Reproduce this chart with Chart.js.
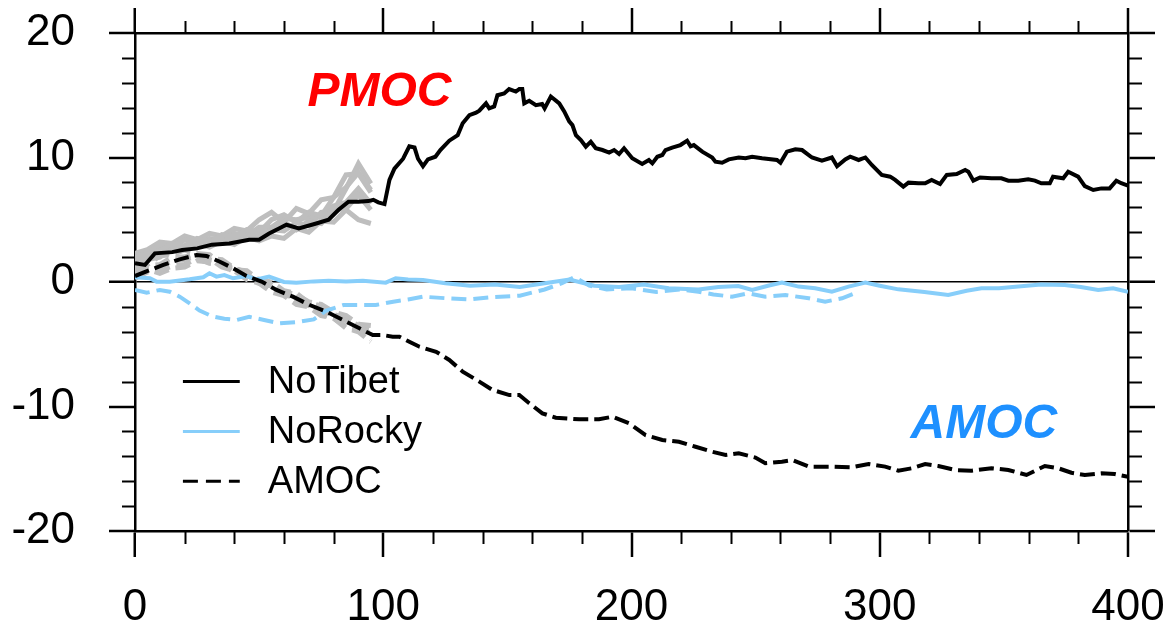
<!DOCTYPE html>
<html>
<head>
<meta charset="utf-8">
<script src="https://cdn.jsdelivr.net/npm/chart.js@4.4.1/dist/chart.umd.min.js"></script>
<style>
  html, body { margin: 0; padding: 0; background: #ffffff; }
  #wrap { position: relative; width: 1171px; height: 632px; }
</style>
</head>
<body>
<div id="wrap"><canvas id="mocChart" width="1171" height="632"></canvas></div>
<script>
// NoTibet PMOC (black solid), [year, Sv]
const tibetPmoc = [
  [0,1.5],[4,1.37],[8,2.3],[15,2.4],[19,2.57],[25,2.7],[31,3.0],[38,3.1],[46,3.4],[50,3.4],
  [54,3.9],[58,4.3],[61,4.6],[66,4.3],[73,4.7],[78,5.0],[82,5.8],[86,6.45],[90,6.45],[94,6.5],
  [96,6.6],[98,6.4],[100.5,6.26],[102.5,8.2],[104.5,9.1],[108,9.9],[110.5,10.9],[112.6,10.8],[114,9.9],[116,9.3],
  [118,9.85],[121,10.06],[123,10.6],[126.6,11.35],[130,11.8],[132,12.75],[134.7,13.4],[137.4,13.6],[138.7,13.76],[141.4,14.35],
  [142.7,13.95],[144.7,14.1],[146,15.0],[148.7,15.15],[150.7,15.5],[153.4,15.3],[154.8,15.5],[156,15.5],[156.8,14.35],[158.8,14.56],
  [161.5,14.2],[164,14.3],[165,13.95],[167.5,14.9],[170.9,14.35],[172.9,13.7],[174.9,12.9],[176.2,12.6],[177.6,11.8],[179.6,11.4],
  [181.6,10.87],[183.6,11.27],[185.6,10.74],[188.3,10.6],[191,10.4],[193,10.6],[195,10.28],[197,10.74],[200.3,9.94],[204.3,9.48],
  [207,9.8],[208.4,9.53],[210.4,10.06],[212.4,10.2],[213.7,10.6],[216.4,10.8],[219.7,11.0],[222.4,11.35],[223.8,10.9],[225.1,11.0],
  [228.5,10.47],[232.5,10.0],[233.8,9.66],[236.5,9.58],[239.2,9.85],[243.2,10.0],[245.9,9.94],[248.6,10.06],[252.6,9.94],[258.6,9.8],
  [260,9.58],[262.6,10.47],[266,10.66],[268.7,10.6],[272.7,10.0],[276.7,9.74],[280.7,10.0],[282.8,9.3],[286.1,9.85],[288.1,10.06],
  [291.5,9.8],[294.2,10.0],[296.8,9.4],[300.8,8.6],[304.2,8.46],[306.2,8.2],[309.5,7.66],[311.6,7.98],[315.6,7.93],[318.3,7.93],
  [320.9,8.2],[324.3,7.87],[327,8.6],[331,8.67],[334.4,9.0],[335.7,8.86],[337.7,8.14],[340.4,8.4],[345,8.33],[349,8.33],
  [351.8,8.14],[355.8,8.14],[359.8,8.25],[362.5,8.14],[365.1,7.93],[368.5,7.93],[369.8,8.46],[373.9,8.33],[375.9,8.86],[379.9,8.46],
  [382.6,7.7],[386,7.39],[389.3,7.52],[392.6,7.52],[395.3,8.14],[397.3,7.93],[400,7.75]
];

// NoTibet AMOC (black dashed)
const tibetAmoc = [
  [0,0.48],[6,0.96],[11.4,1.37],[18,1.82],[24.8,2.17],[28.8,2.09],[34.2,1.63],[39.5,1.1],[44.9,0.48],[51,0.03],
  [57,-0.64],[63.6,-1.18],[70.4,-1.85],[77,-2.38],[83.7,-3.05],[90.4,-3.72],[95.8,-4.26],[99.8,-4.26],[103.8,-4.39],[106.5,-4.39],
  [110.5,-4.8],[114.6,-5.2],[121.3,-5.6],[126.6,-6.26],[132,-7.2],[138.7,-8.0],[144,-8.67],[150.8,-9.08],[154.8,-9.08],[158.8,-9.74],
  [164.1,-10.55],[169.5,-10.9],[178.9,-11.03],[186.9,-11.03],[192.3,-10.82],[199,-11.35],[205.7,-12.3],[212.4,-12.69],[219.1,-12.83],[225.8,-13.23],
  [232.5,-13.63],[237.9,-13.9],[243.2,-13.76],[249.9,-14.1],[253.9,-14.56],[260.6,-14.43],[264.7,-14.3],[271.4,-14.83],[280.7,-14.83],[288.8,-14.88],
  [295.5,-14.62],[302.2,-14.83],[307.5,-15.16],[312.9,-14.96],[318.3,-14.62],[323.6,-14.78],[330.3,-15.1],[337,-15.16],[345,-14.96],[351.8,-15.1],
  [359.1,-15.5],[366.5,-14.78],[371.9,-14.96],[377.2,-15.32],[382.6,-15.5],[389.3,-15.37],[394.6,-15.42],[400,-15.64]
];

// NoRocky PMOC (light blue solid)
const rockyPmoc = [
  [0,0.38],[6,0.3],[8.7,0.03],[14,0.03],[22,0.22],[27.5,0.38],[30,0.7],[32.8,0.43],[36,0.56],[39.5,0.3],
  [45,0.48],[49,0.21],[54,0.43],[60,0.0],[65,-0.05],[72,0.05],[78,0.1],[85,0.05],[91.8,0.1],[101,-0.05],
  [105,0.3],[110,0.2],[116,0.16],[125,-0.1],[135,-0.3],[145,-0.2],[155,-0.4],[165,-0.1],[175,0.2],[185,-0.3],
  [195,-0.4],[205,-0.2],[215,-0.5],[227,-0.6],[235,-0.4],[243,-0.32],[248.6,-0.64],[255,-0.3],[260.6,-0.05],[267.3,-0.37],
  [274,-0.5],[280.7,-0.78],[287.4,-0.37],[294.2,-0.05],[300,-0.3],[307.5,-0.59],[318,-0.8],[327.6,-1.04],[335,-0.7],[341,-0.51],
  [348,-0.5],[355.8,-0.37],[365,-0.2],[374.5,-0.24],[381,-0.4],[388,-0.64],[394,-0.5],[400,-0.78]
];

// NoRocky AMOC (light blue dashed)
const rockyAmoc = [
  [0,-0.64],[4.7,-0.86],[10,-0.64],[14,-0.78],[18,-1.18],[22,-1.71],[26,-2.3],[31,-2.75],[36,-2.95],[41,-3.05],
  [46,-2.8],[52,-3.05],[58.3,-3.32],[66,-3.2],[72,-3.0],[77,-2.3],[84,-1.85],[90,-1.85],[97,-1.85],[104,-1.58],
  [110,-1.4],[116,-1.18],[125,-1.3],[135,-1.4],[145,-1.2],[155,-1.1],[165,-0.6],[172,-0.1],[177,0.4],[183,-0.3],
  [190,-0.6],[200,-0.5],[210,-0.8],[220,-0.6],[227,-0.78],[233,-1.0],[240.5,-1.18],[247,-0.9],[253.9,-1.18],[262,-1.04],
  [271.4,-1.31],[278,-1.58],[284.8,-1.31],[290,-0.9]
];

// grey ensemble members, first century only
const ensembleYears = [0,5,10,15,20,25,30,35,40,45,50,55,60,65,70,75,80,85,90,95];
const ensemblePmoc = [
  [1.6,2.4,2.5,3.1,2.9,3.5,3.2,3.8,3.6,4.2,4.0,5.0,5.4,4.8,5.6,5.3,6.8,7.6,8.8,7.4],
  [2.1,2.3,3.0,2.9,3.4,3.1,3.4,3.1,3.7,3.5,4.1,4.0,4.8,4.2,4.9,4.7,5.8,5.9,7.0,5.8],
  [1.2,2.0,2.2,2.8,2.7,3.3,3.0,3.6,3.3,3.9,3.7,4.2,4.1,4.8,4.5,5.6,5.7,7.5,9.5,7.9],
  [2.3,2.6,3.2,3.1,3.7,3.4,3.9,3.7,4.3,4.1,5.0,5.6,4.8,5.9,5.5,6.6,6.8,8.6,8.7,7.2],
  [0.9,1.8,2.0,2.7,2.6,3.1,2.8,3.3,3.0,3.6,3.3,3.7,3.5,4.3,4.0,4.9,4.8,5.8,5.0,4.7],
  [1.9,2.2,2.9,2.8,3.4,3.3,3.5,3.4,3.9,3.7,4.4,4.4,5.1,5.0,5.2,5.2,6.1,6.4,7.5,6.3]
];
const ensembleAmoc = [
  [1.1,1.4,2.1,2.2,2.6,2.1,1.9,1.2,0.9,0.2,-0.1,-0.8,-1.1,-1.8,-2.0,-2.7,-2.9,-3.6,-3.8,-4.6],
  [0.6,1.1,1.2,1.7,1.8,2.1,1.8,1.6,0.9,0.6,-0.1,-0.3,-1.0,-1.3,-1.9,-2.1,-2.8,-3.1,-3.8,-4.1],
  [0.3,0.8,0.9,1.3,1.4,1.9,1.5,1.4,0.8,0.6,0.0,-0.2,-0.8,-1.0,-1.6,-1.8,-2.4,-2.7,-3.4,-3.5],
  [1.4,1.7,2.3,2.3,2.6,2.3,2.2,1.5,1.2,0.5,0.2,-0.6,-0.9,-1.6,-1.9,-2.6,-2.9,-3.7,-4.0,-4.8],
  [0.8,1.3,1.4,2.0,2.0,2.3,1.9,1.8,1.1,0.8,0.1,-0.2,-0.9,-1.2,-1.8,-2.0,-2.7,-2.9,-3.5,-3.8],
  [0.4,1.0,0.7,1.1,1.2,1.7,1.6,1.6,1.0,0.9,0.2,0.0,-0.7,-0.9,-1.7,-1.9,-2.6,-2.9,-3.6,-3.9]
];

const xTicks = [0, 100, 200, 300, 400];
const yTicks = [-20, -10, 0, 10, 20];
const legendLabels = ["NoTibet", "NoRocky", "AMOC"];
const basinLabels = ["PMOC", "AMOC"];

const BLACK = "#000000";
const SKY = "#87cefa";
const GREY = "#bebebe";
const FONT = "\"Liberation Sans\", Arial, Helvetica, sans-serif";

const toPoints = (pairs) => pairs.map(([x, y]) => ({ x, y }));
const runPoints = (values) => values.map((y, i) => ({ x: ensembleYears[i], y }));

const lineSet = (label, data, color, width, dash, order) => ({
  label, data, borderColor: color, borderWidth: width, borderDash: dash,
  pointRadius: 0, tension: 0, fill: false, order
});

const datasets = [
  lineSet("NoTibet", toPoints(tibetPmoc), BLACK, 4, [], 0),
  lineSet("NoTibet AMOC", toPoints(tibetAmoc), BLACK, 4, [15, 6], 0),
  lineSet("NoRocky", toPoints(rockyPmoc), SKY, 4, [], 1),
  lineSet("NoRocky AMOC", toPoints(rockyAmoc), SKY, 4, [15, 7], 1)
];
ensemblePmoc.forEach((run, i) => datasets.push(lineSet("ens pmoc " + i, runPoints(run), GREY, 5, [], 5)));
ensembleAmoc.forEach((run, i) => datasets.push(lineSet("ens amoc " + i, runPoints(run), GREY, 5, [15, 7], 5)));

// minor ticks, legend and basin labels
const frameExtras = {
  id: "frameExtras",
  afterDraw(chart) {
    const { ctx, chartArea: area, scales } = chart;
    const seg = (x1, y1, x2, y2) => { ctx.beginPath(); ctx.moveTo(x1, y1); ctx.lineTo(x2, y2); ctx.stroke(); };
    ctx.save();
    ctx.strokeStyle = BLACK;
    ctx.lineWidth = 2;
    for (let v = 20; v < 400; v += 20) {
      if (v % 100 === 0) continue;
      const px = Math.round(scales.x.getPixelForValue(v)) + 0.5;
      seg(px, area.bottom, px, area.bottom + 13);
      seg(px, area.top, px, area.top - 12);
    }
    for (let v = -18; v < 20; v += 2) {
      if (v % 10 === 0) continue;
      const py = Math.round(scales.y.getPixelForValue(v)) + 0.5;
      seg(area.left, py, area.left - 13, py);
      seg(area.right, py, area.right + 14, py);
    }

    // legend
    const legendRows = [
      { color: BLACK, dash: [], y: -8 },
      { color: SKY, dash: [], y: -12 },
      { color: BLACK, dash: [15, 8], y: -16 }
    ];
    ctx.font = "38px " + FONT;
    ctx.textBaseline = "middle";
    ctx.textAlign = "left";
    legendRows.forEach((row, i) => {
      const py = scales.y.getPixelForValue(row.y);
      ctx.strokeStyle = row.color;
      ctx.lineWidth = 3;
      ctx.setLineDash(row.dash);
      seg(scales.x.getPixelForValue(19.3), py, scales.x.getPixelForValue(42.2), py);
      ctx.setLineDash([]);
      ctx.fillStyle = BLACK;
      ctx.fillText(legendLabels[i], scales.x.getPixelForValue(53.5), py + 1);
    });

    ctx.font = "italic bold 48px " + FONT;
    ctx.fillStyle = "#ff0000";
    ctx.fillText(basinLabels[0], scales.x.getPixelForValue(69.5), scales.y.getPixelForValue(15.2));
    ctx.fillStyle = "#1e90ff";
    ctx.fillText(basinLabels[1], scales.x.getPixelForValue(312.4), scales.y.getPixelForValue(-11.5));
    ctx.restore();
  }
};

const axisGrid = (tickLength, zeroLine) => ({
  drawOnChartArea: zeroLine,
  drawTicks: true,
  tickLength,
  tickWidth: 2.5,
  tickColor: BLACK,
  color: (c) => (c.tick && c.tick.value === 0 ? BLACK : "rgba(0,0,0,0)"),
  lineWidth: (c) => (c.tick && c.tick.value === 0 ? 1.5 : 0)
});
const axisBorder = { display: true, color: BLACK, width: 2.5 };
const tickFont = { family: FONT, size: 44 };

// fixed axis sizes so the plot box lands where the reference has it
const fixSize = (size, horizontal) => (s) => {
  if (horizontal) s.height = size; else s.width = size;
  s.paddingLeft = 0; s.paddingRight = 0; s.paddingTop = 0; s.paddingBottom = 0;
};

Chart.defaults.font.family = FONT;

new Chart(document.getElementById("mocChart"), {
  type: "line",
  data: { datasets },
  plugins: [frameExtras],
  options: {
    responsive: false,
    animation: false,
    layout: { padding: 0 },
    plugins: { legend: { display: false }, tooltip: { enabled: false } },
    scales: {
      x: {
        type: "linear", position: "bottom", min: 0, max: 400,
        afterBuildTicks: (s) => { s.ticks = xTicks.map((value) => ({ value })); },
        afterFit: fixSize(101, true),
        grid: axisGrid(26, false), border: axisBorder,
        ticks: { color: BLACK, font: tickFont, padding: 24, maxRotation: 0 }
      },
      x2: {
        type: "linear", position: "top", min: 0, max: 400,
        afterBuildTicks: (s) => { s.ticks = xTicks.map((value) => ({ value })); },
        afterFit: fixSize(33, true),
        grid: axisGrid(25, false), border: axisBorder,
        ticks: { display: false }
      },
      y: {
        type: "linear", position: "left", min: -20, max: 20,
        afterBuildTicks: (s) => { s.ticks = yTicks.map((value) => ({ value })); },
        afterFit: fixSize(135, false),
        grid: axisGrid(26, true), border: axisBorder,
        ticks: { color: BLACK, font: tickFont, padding: 34 }
      },
      y2: {
        type: "linear", position: "right", min: -20, max: 20,
        afterBuildTicks: (s) => { s.ticks = yTicks.map((value) => ({ value })); },
        afterFit: fixSize(43, false),
        grid: axisGrid(27, false), border: axisBorder,
        ticks: { display: false }
      }
    }
  }
});
</script>
</body>
</html>
